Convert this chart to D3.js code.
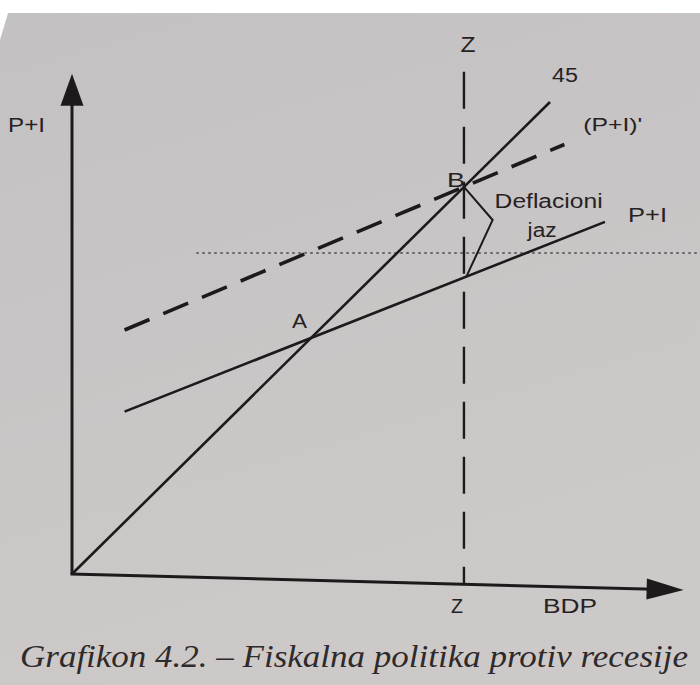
<!DOCTYPE html>
<html>
<head>
<meta charset="utf-8">
<script src="https://cdn.jsdelivr.net/npm/d3@7"></script>
<style>
  html, body { margin: 0; padding: 0; background: #fff; }
  svg { display: block; }
</style>
</head>
<body>
<script>
// Keynesian cross: aggregate demand (P+I), raised demand (P+I)' and the 45° line.
const axisMax = [128, 106];                         // x (BDP) and y (P+I) axis lengths
const line45 = [[0, 0], [100, 100]];                // output = demand
const demandLine = [[11, 34.4], [111.5, 74.6]];     // P+I
const raisedDemandLine = [[11, 51.7], [103, 91.0]]; // (P+I)'
const pointA = [50, 50];
const pointB = [82, 82];
const potentialOutput = 82;                         // Z
const potentialTop = 106.4;
const gapBrace = [[82, 82], [88, 75], [82.5, 63]];  // deflationary gap marker
const guideLevel = 68;
const guideRange = [26, 132];

const axisLabels = ["P+I", "BDP"];
const lineLabels = ["45", "(P+I)'", "P+I"];
const pointLabels = ["A", "B"];
const zLabel = "Z";
const gapLabel = ["Deflacioni", "jaz"];
const caption = "Grafikon 4.2. – Fiskalna politika protiv recesije";

const W = 700, H = 685;
const ink = "#1e1a1b", textInk = "#262224";
const sans = "'Liberation Sans', Arial, sans-serif";

const svg = d3.select("body").append("svg")
  .attr("width", W).attr("height", H);

// paper background
const defs = svg.append("defs");
const grad = defs.append("linearGradient").attr("id", "paper")
  .attr("x1", 0).attr("y1", 0).attr("x2", 0.3).attr("y2", 1);
grad.append("stop").attr("offset", "0%").attr("stop-color", "#c4c1c3");
grad.append("stop").attr("offset", "100%").attr("stop-color", "#cdc9c8");
svg.append("rect").attr("width", W).attr("height", H).attr("fill", "url(#paper)");
svg.append("rect").attr("width", W).attr("height", 13).attr("fill", "#ffffff");
svg.append("path").attr("d", "M0,13 L8,13 L0,40 Z").attr("fill", "#ffffff");

const x = d3.scaleLinear().domain([0, 100]).range([72, 550]);
const y = d3.scaleLinear().domain([0, 100]).range([574, 102]);
const lineGen = d3.line().x(d => x(d[0])).y(d => y(d[1]));

// dotted guide
svg.append("line")
  .attr("x1", x(guideRange[0])).attr("x2", x(guideRange[1]))
  .attr("y1", y(guideLevel)).attr("y2", y(guideLevel))
  .attr("stroke", "#4a4547").attr("stroke-width", 1.6)
  .attr("stroke-dasharray", "2.5,3.5");

// y axis with arrow
const yTip = y(axisMax[1]);
svg.append("line")
  .attr("x1", x(0)).attr("x2", x(0))
  .attr("y1", y(0)).attr("y2", yTip + 20)
  .attr("stroke", ink).attr("stroke-width", 3);
svg.append("path")
  .attr("d", `M${x(0)},${yTip} L${x(0) + 11.5},${yTip + 32} L${x(0) - 11.5},${yTip + 32} Z`)
  .attr("fill", ink);

// x axis with arrow (the page sags slightly toward the right)
const axisTilt = 1.5;
const xAxisG = svg.append("g")
  .attr("transform", `rotate(${axisTilt},${x(0)},${y(0)})`);
const xTip = x(axisMax[0]);
xAxisG.append("line")
  .attr("x1", x(0) - 1.5).attr("x2", xTip - 20)
  .attr("y1", y(0)).attr("y2", y(0))
  .attr("stroke", ink).attr("stroke-width", 3);
xAxisG.append("path")
  .attr("d", `M${xTip},${y(0)} L${xTip - 37},${y(0) - 10.5} L${xTip - 37},${y(0) + 10.5} Z`)
  .attr("fill", ink);

// potential output Z (vertical dashed line down to the tilted axis)
const zx = x(potentialOutput);
const zBottom = y(0) + (zx - x(0)) * Math.tan(axisTilt * Math.PI / 180);
svg.append("line")
  .attr("x1", zx).attr("x2", zx)
  .attr("y1", y(potentialTop)).attr("y2", zBottom)
  .attr("stroke", ink).attr("stroke-width", 2.4)
  .attr("stroke-dasharray", "37,18");

// 45° line and demand lines
svg.append("path").attr("d", lineGen(line45))
  .attr("fill", "none").attr("stroke", ink).attr("stroke-width", 2.6);
svg.append("path").attr("d", lineGen(demandLine))
  .attr("fill", "none").attr("stroke", ink).attr("stroke-width", 2.6);
svg.append("path").attr("d", lineGen(raisedDemandLine))
  .attr("fill", "none").attr("stroke", ink).attr("stroke-width", 3.6)
  .attr("stroke-dasharray", "27,15");

// deflationary gap marker
svg.append("path").attr("d", lineGen(gapBrace))
  .attr("fill", "none").attr("stroke", ink).attr("stroke-width", 2)
  .attr("stroke-linejoin", "miter");

// labels
function label(txt, px, py, len, size, anchor) {
  const t = svg.append("text")
    .attr("x", px).attr("y", py)
    .attr("font-family", sans).attr("font-size", size || 20)
    .attr("fill", textInk)
    .attr("text-anchor", anchor || "start")
    .text(txt);
  if (len) t.attr("textLength", len).attr("lengthAdjust", "spacingAndGlyphs");
  return t;
}

label(axisLabels[0], x(0) - 64, y(100) + 30, 37);
label(axisLabels[1], 543, 613, 54);
label(zLabel, zx + 4, 52, 15, 22, "middle");
label(zLabel, zx - 7, 613, 12, 20, "middle");

const e45 = line45[1], eD = demandLine[1], eR = raisedDemandLine[1];
label(lineLabels[0], x(e45[0]) + 2, y(e45[1]) - 20, 26);
label(lineLabels[1], x(eR[0]) + 19, y(eR[1]) - 13, 59, 19);
label(lineLabels[2], x(eD[0]) + 23, y(eD[1]), 39);

label(pointLabels[0], x(pointA[0]) - 19, y(pointA[1]) - 10, 15, 21);
label(pointLabels[1], x(pointB[0]) - 17, y(pointB[1]), 18, 21);

const mid = gapBrace[1];
label(gapLabel[0], x(mid[0]) + 2, y(mid[1]) - 12, 108);
label(gapLabel[1], x(mid[0]) + 35, y(mid[1]) + 17, 29);

// caption, fitted to the width of the figure
const cap = svg.append("text")
  .attr("x", 20).attr("y", 667)
  .attr("font-family", "Liberation Serif")
  .attr("font-style", "italic").attr("font-size", 32)
  .attr("fill", "#2e2a2b")
  .text(caption);
const natural = cap.node().getComputedTextLength();
if (Math.abs(natural - 668) > 4) {
  cap.attr("textLength", 668).attr("lengthAdjust", "spacingAndGlyphs");
}
</script>
</body>
</html>
